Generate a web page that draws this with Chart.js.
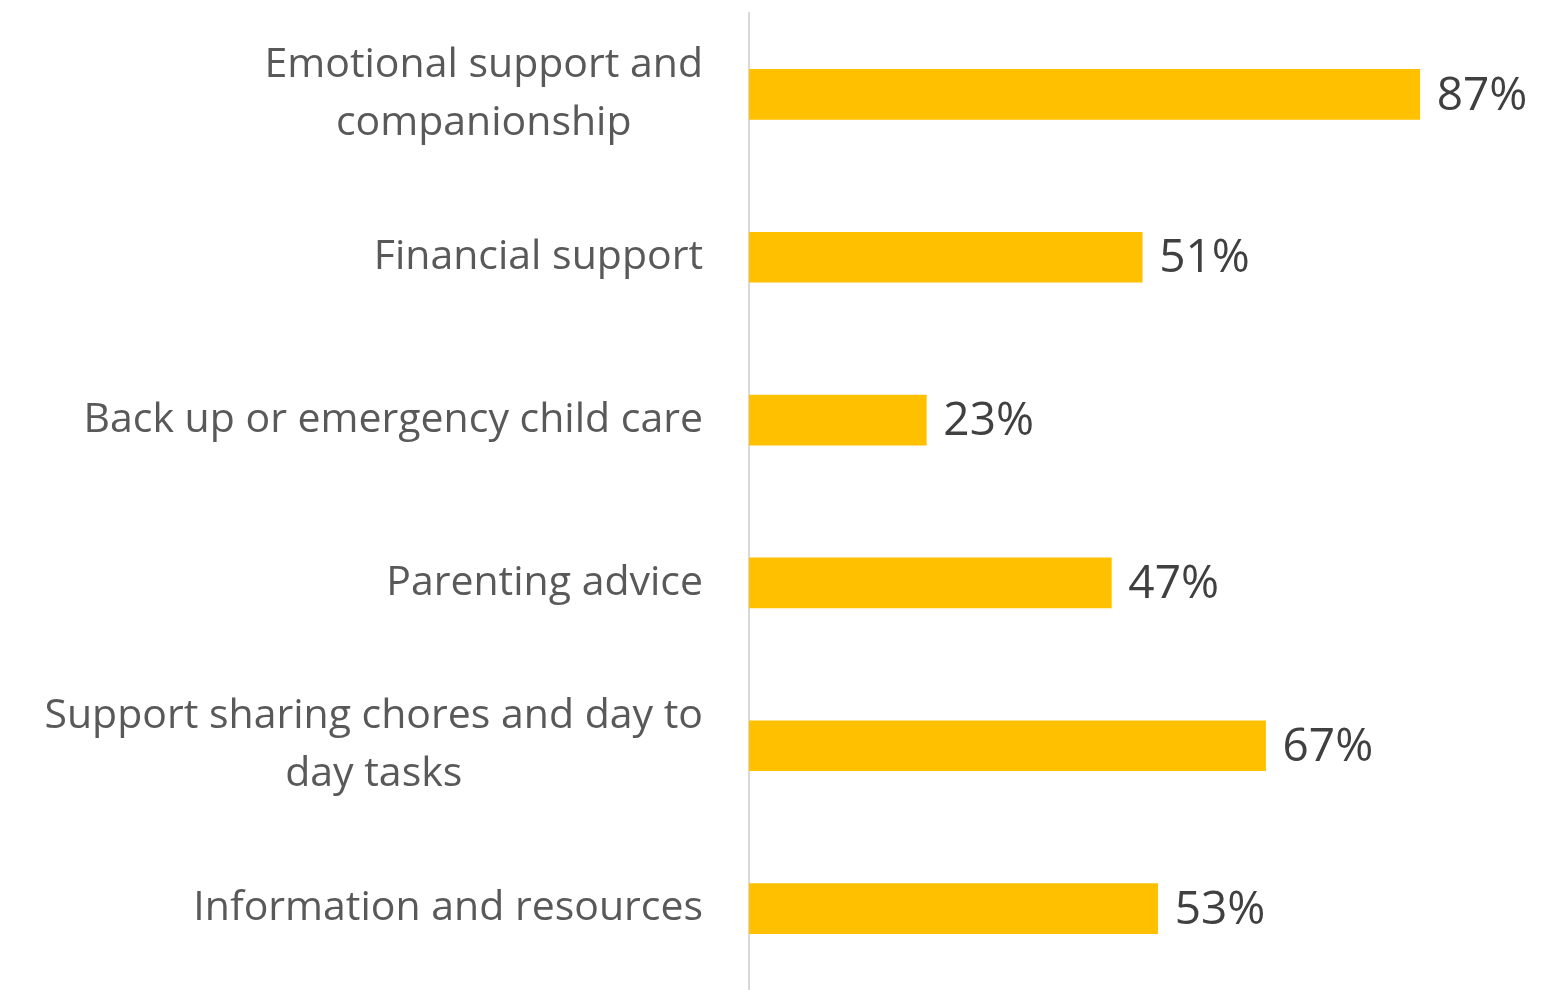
<!DOCTYPE html>
<html>
<head>
<meta charset="utf-8">
<script src="https://cdn.jsdelivr.net/npm/chart.js@4"></script>
<style>
  html, body { margin: 0; padding: 0; background: #fff; }
  #wrap { width: 1560px; height: 990px; }
</style>
</head>
<body>
<div id="wrap"><canvas id="supportChart"></canvas></div>
<script>
var categories = [
    ['Emotional support and', 'companionship'],
    ['Financial support'],
    ['Back up or emergency child care'],
    ['Parenting advice'],
    ['Support sharing chores and day to', 'day tasks'],
    ['Information and resources']
];
var percentages = [87, 51, 23, 47, 67, 53];

var labelFont = '41px "Open Sans", Lato, sans-serif';
var valueFont = '46px "Open Sans", Lato, sans-serif';

// category labels: block right-aligned to the axis, lines centred within the block
var categoryLabels = {
    id: 'categoryLabels',
    afterDraw: function(chart) {
        var ctx = chart.ctx;
        var yScale = chart.scales.y;
        var right = chart.chartArea.left - 46;
        var lineHeight = 58;
        ctx.save();
        ctx.font = labelFont;
        ctx.fillStyle = '#595959';
        ctx.textBaseline = 'middle';
        ctx.textAlign = 'center';
        categories.forEach(function(lines, i) {
            var y = yScale.getPixelForValue(i);
            var widest = 0;
            lines.forEach(function(l) { widest = Math.max(widest, ctx.measureText(l).width); });
            var cx = right - widest / 2;
            var top = y - (lines.length - 1) * lineHeight / 2;
            lines.forEach(function(l, j) {
                ctx.fillText(l, cx, top + j * lineHeight);
            });
        });
        ctx.restore();
    }
};

// percentage labels at the end of each bar
var valueLabels = {
    id: 'valueLabels',
    afterDatasetsDraw: function(chart) {
        var ctx = chart.ctx;
        var meta = chart.getDatasetMeta(0);
        ctx.save();
        ctx.font = valueFont;
        ctx.fillStyle = '#404040';
        ctx.textBaseline = 'middle';
        ctx.textAlign = 'left';
        meta.data.forEach(function(bar, i) {
            ctx.fillText(percentages[i] + '%', bar.x + 17, bar.y + 2);
        });
        ctx.restore();
    }
};

var ctx = document.getElementById('supportChart').getContext('2d');
var supportChart = new Chart(ctx, {
    type: 'bar',
    data: {
        labels: categories.map(function(c) { return c.join(' '); }),
        datasets: [{
            data: percentages,
            backgroundColor: '#ffc000',
            borderWidth: 0,
            barThickness: 50
        }]
    },
    options: {
        indexAxis: 'y',
        responsive: true,
        maintainAspectRatio: false,
        animation: false,
        layout: { padding: { top: 13, right: 40, bottom: 0, left: 0 } },
        plugins: {
            legend: { display: false },
            tooltip: { enabled: false }
        },
        scales: {
            x: {
                min: 0,
                max: 100,
                display: false
            },
            y: {
                grid: { display: false, drawTicks: false },
                border: { display: true, color: '#d9d9d9', width: 2 },
                ticks: { display: false },
                afterFit: function(scale) { scale.width = 749; }
            }
        }
    },
    plugins: [categoryLabels, valueLabels]
});
</script>
</body>
</html>
